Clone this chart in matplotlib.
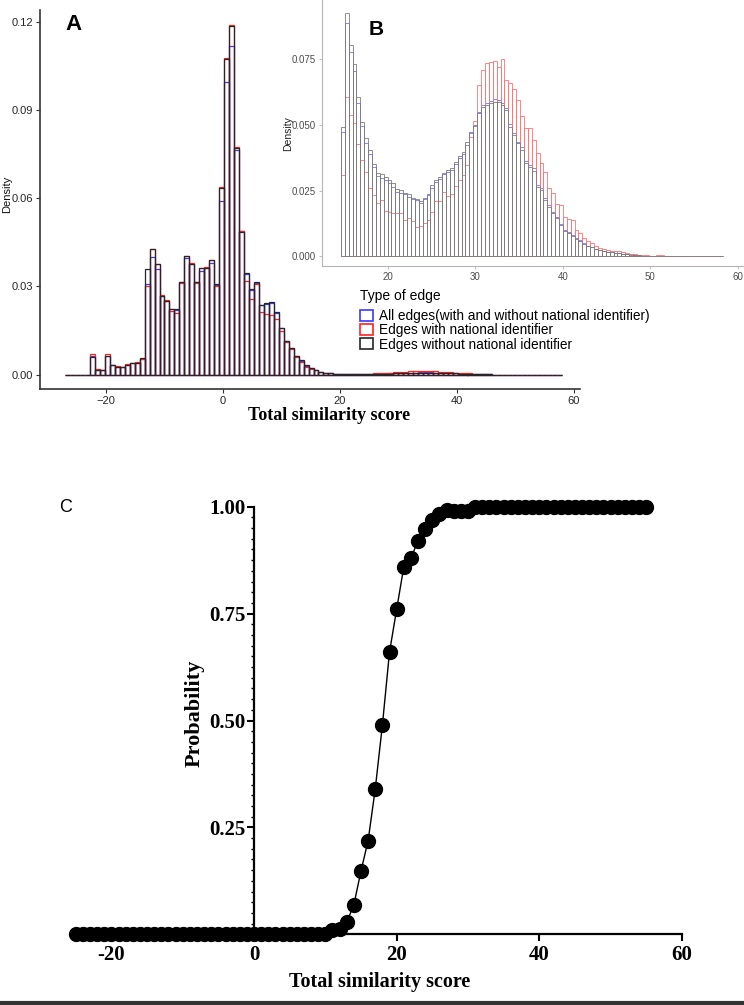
import numpy as np
import matplotlib
matplotlib.use("Agg")
import matplotlib.pyplot as plt
from matplotlib.patches import Patch
from matplotlib.lines import Line2D
from matplotlib.ticker import FixedLocator

# ---------------- DATA ----------------
# Panel A: histogram of total similarity score (100 bins of width 0.85 starting at -27)
a_start = -27.0
a_width = 0.85
a_without = ([0.0, 0.0, 0.0, 0.0, 0.0,
              0.0061, 0.0017, 0.0015, 0.0063, 0.0031, 0.0027, 0.0025, 0.0034, 0.0039, 0.0041, 0.0055,
              0.0360, 0.0426, 0.0376, 0.0268, 0.0251, 0.0223, 0.0222, 0.0315, 0.0403, 0.0378, 0.0315,
              0.0362, 0.0364, 0.0389, 0.0307,
              0.0636, 0.1075, 0.1186, 0.0772, 0.0487,
              0.0347, 0.0290, 0.0315, 0.0238, 0.0245, 0.0246, 0.0212, 0.0158, 0.0115, 0.0092, 0.0063,
              0.0049, 0.0031, 0.0023, 0.0016, 0.0010, 0.0007, 0.0005, 0.0003,
              0.0002, 0.0002, 0.0001, 0.0001, 0.0001, 0.0001, 0.0001, 0.0002,
              0.0002, 0.0003, 0.0003, 0.0004, 0.0005, 0.0005, 0.0006, 0.0006, 0.0007, 0.0007, 0.0007,
              0.0006, 0.0006, 0.0005, 0.0004, 0.0004, 0.0003, 0.0002, 0.0002, 0.0001, 0.0001, 0.0001, 0.0001]
             + [0.0] * 14)
a_with = ([0.0, 0.0, 0.0, 0.0, 0.0,
           0.0069, 0.0018, 0.0016, 0.0070, 0.0033, 0.0029, 0.0027, 0.0036, 0.0041, 0.0044, 0.0052,
           0.0303, 0.0428, 0.0378, 0.0271, 0.0253, 0.0218, 0.0208, 0.0313, 0.0405, 0.0380, 0.0312,
           0.0364, 0.0366, 0.0391, 0.0303,
           0.0640, 0.1078, 0.1190, 0.0775, 0.0490,
           0.0320, 0.0258, 0.0310, 0.0214, 0.0206, 0.0203, 0.0189, 0.0150, 0.0110, 0.0086, 0.0060,
           0.0043, 0.0027, 0.0020, 0.0014, 0.0009, 0.0006, 0.0004, 0.0003,
           0.0002, 0.0002, 0.0002, 0.0002, 0.0002, 0.0003, 0.0003, 0.0004,
           0.0005, 0.0006, 0.0007, 0.0008, 0.0009, 0.0010, 0.0011, 0.0012, 0.0012, 0.0012, 0.0012,
           0.0011, 0.0010, 0.0009, 0.0008, 0.0007, 0.0006, 0.0005, 0.0004, 0.0003, 0.0002, 0.0002, 0.0001]
          + [0.0] * 14)
a_all = ([0.0, 0.0, 0.0, 0.0, 0.0,
          0.0063, 0.0017, 0.0015, 0.0064, 0.0031, 0.0027, 0.0025, 0.0034, 0.0039, 0.0041, 0.0054,
          0.0310, 0.0400, 0.0358, 0.0266, 0.0249, 0.0222, 0.0220, 0.0314, 0.0397, 0.0377, 0.0314,
          0.0351, 0.0363, 0.0380, 0.0306,
          0.0590, 0.0997, 0.1120, 0.0765, 0.0488,
          0.0343, 0.0288, 0.0313, 0.0236, 0.0242, 0.0243, 0.0210, 0.0157, 0.0114, 0.0091, 0.0063,
          0.0048, 0.0030, 0.0022, 0.0015, 0.0010, 0.0007, 0.0005, 0.0003,
          0.0002, 0.0002, 0.0001, 0.0001, 0.0001, 0.0001, 0.0002, 0.0002,
          0.0003, 0.0003, 0.0004, 0.0005, 0.0005, 0.0006, 0.0007, 0.0007, 0.0008, 0.0008, 0.0008,
          0.0007, 0.0007, 0.0006, 0.0005, 0.0004, 0.0003, 0.0003, 0.0002, 0.0002, 0.0001, 0.0001, 0.0001]
         + [0.0] * 14)

# Panel B: zoom on scores above ~15 (98 bins of width 0.445 starting at 14.65)
b_start = 14.65
b_width = 0.445
b_without = ([0.0493, 0.0929, 0.0807, 0.0731, 0.0605, 0.0512, 0.0449, 0.0404, 0.0353, 0.0318,
              0.0313, 0.0302, 0.0290, 0.0277, 0.0254, 0.0252, 0.0239, 0.0235, 0.0222, 0.0216,
              0.0211, 0.0222, 0.0238, 0.0271, 0.0290, 0.0302, 0.0318,
              0.0329, 0.0337, 0.0360, 0.0383, 0.0396, 0.0435, 0.0472, 0.0495, 0.0545, 0.0569,
              0.0575, 0.0583, 0.0589, 0.0586, 0.0575, 0.0557, 0.0494, 0.0462, 0.0430, 0.0405,
              0.0354, 0.0341, 0.0326, 0.0265, 0.0252, 0.0214, 0.0188, 0.0163, 0.0144, 0.0118,
              0.0097, 0.0087, 0.0076, 0.0064, 0.0059, 0.0046, 0.0038, 0.0033, 0.0025, 0.0023,
              0.0020, 0.0016, 0.0014, 0.0012, 0.0010, 0.0008, 0.0006, 0.0005, 0.0004, 0.0003,
              0.0002, 0.0002, 0.0001, 0.0001, 0.0001, 0.0001, 0.0000]
             + [0.0] * 14)
b_with = ([0.0311, 0.0608, 0.0540, 0.0506, 0.0426, 0.0366, 0.0319, 0.0258, 0.0233, 0.0203,
           0.0214, 0.0173, 0.0169, 0.0165, 0.0165, 0.0163, 0.0137, 0.0144, 0.0133, 0.0112,
           0.0114, 0.0125, 0.0137, 0.0168, 0.0210, 0.0210, 0.0244,
           0.0231, 0.0237, 0.0266, 0.0292, 0.0310, 0.0347, 0.0455, 0.0515, 0.0653, 0.0711,
           0.0738, 0.0742, 0.0745, 0.0723, 0.0751, 0.0672, 0.0660, 0.0636, 0.0596, 0.0535,
           0.0488, 0.0488, 0.0443, 0.0392, 0.0354, 0.0322, 0.0258, 0.0239, 0.0197, 0.0194,
           0.0149, 0.0143, 0.0137, 0.0100, 0.0087, 0.0068, 0.0059, 0.0048, 0.0038, 0.0029,
           0.0025, 0.0022, 0.0020, 0.0020, 0.0018, 0.0015, 0.0012, 0.0009, 0.0006, 0.0005,
           0.0004, 0.0004, 0.0002, 0.0002, 0.0003, 0.0003, 0.0001]
          + [0.0] * 14)
b_all = ([0.0473, 0.0890, 0.0777, 0.0705, 0.0585, 0.0496, 0.0432, 0.0389, 0.0341, 0.0305,
          0.0299, 0.0290, 0.0277, 0.0264, 0.0245, 0.0241, 0.0236, 0.0226, 0.0216, 0.0214,
          0.0203, 0.0216, 0.0233, 0.0258, 0.0283, 0.0294, 0.0313,
          0.0320, 0.0330, 0.0352, 0.0375, 0.0390, 0.0425, 0.0468, 0.0500, 0.0550, 0.0575,
          0.0585, 0.0593, 0.0598, 0.0596, 0.0585, 0.0565, 0.0505, 0.0470, 0.0437, 0.0415,
          0.0362, 0.0348, 0.0335, 0.0272, 0.0258, 0.0220, 0.0195, 0.0168, 0.0150, 0.0123,
          0.0101, 0.0091, 0.0080, 0.0067, 0.0061, 0.0048, 0.0040, 0.0034, 0.0026, 0.0024,
          0.0021, 0.0017, 0.0015, 0.0013, 0.0011, 0.0009, 0.0007, 0.0006, 0.0004, 0.0003,
          0.0002, 0.0002, 0.0001, 0.0001, 0.0001, 0.0001, 0.0000]
         + [0.0] * 14)

legend_title = "Type of edge"
legend_labels = ["All edges(with and without national identifier)",
                 "Edges with national identifier",
                 "Edges without national identifier"]

a_xticks = [-20, 0, 20, 40, 60]
a_yticks = [0.00, 0.03, 0.06, 0.09, 0.12]
b_xticks = [20, 30, 40, 50, 60]
b_yticks = [0.000, 0.025, 0.050, 0.075]

# Panel C: probability vs total similarity score
c_score = [-25, -24, -23, -22, -21, -20, -19, -18, -17, -16, -15, -14, -13, -12, -11, -10,
           -9, -8, -7, -6, -5, -4, -3, -2, -1, 0, 1, 2, 3, 4, 5, 6, 7, 8, 9, 10,
           11, 12, 13, 14, 15, 16, 17, 18, 19, 20, 21, 22, 23, 24, 25, 26, 27, 28, 29, 30,
           31, 32, 33, 34, 35, 36, 37, 38, 39, 40, 41, 42, 43, 44, 45, 46, 47, 48, 49, 50,
           51, 52, 53, 54, 55]
c_prob = ([0.0] * 36 +
          [0.011, 0.012, 0.028, 0.069, 0.148, 0.219, 0.340, 0.489, 0.660, 0.760,
           0.859, 0.879, 0.921, 0.949, 0.970, 0.983, 0.993, 0.990, 0.990, 0.990] +
          [1.0] * 25)
c_xticks = [-20, 0, 20, 40, 60]
c_yticks = [0.25, 0.50, 0.75, 1.00]

# ---------------- FIGURE ----------------
W, H = 744, 1005
fig = plt.figure(figsize=(W / 100, H / 100), dpi=100)
fig.patch.set_facecolor("white")

def fx(px):
    return px / W

def fy(py):
    return 1 - py / H

SANS = ["Liberation Sans", "DejaVu Sans"]
SERIF = ["Liberation Serif", "DejaVu Serif"]

COL_ALL = "#3a3aff"
COL_WITH = "#ff2020"
COL_WITHOUT = "#262626"

# ---- Panel A ----
axA = fig.add_axes([fx(40), fy(389), fx(580) - fx(40), fy(10) - fy(389)])
axA.set_zorder(1)
leftA = a_start + a_width * np.arange(len(a_without))
for vals, col in [(a_all, COL_ALL), (a_with, COL_WITH), (a_without, COL_WITHOUT)]:
    axA.bar(leftA, vals, width=a_width, align="edge", fill=False,
            edgecolor=col, linewidth=0.9)
axA.set_xlim(-31.3, 61.1)
axA.set_ylim(-0.0049, 0.1241)
for s in ["top", "right"]:
    axA.spines[s].set_visible(False)
for s in ["left", "bottom"]:
    axA.spines[s].set_color("#333333")
    axA.spines[s].set_linewidth(1.2)
axA.set_xticks(a_xticks)
axA.set_xticklabels(["\u221220", "0", "20", "40", "60"])
axA.set_yticks(a_yticks)
axA.set_yticklabels(["%.2f" % v for v in a_yticks])
axA.tick_params(length=3, width=0.8, color="#333333", labelsize=8,
                labelcolor="#262626", pad=2)
for lab in axA.get_xticklabels() + axA.get_yticklabels():
    lab.set_family(SANS)

fig.text(fx(7), fy(194), "Density", rotation=90, ha="center", va="center",
         fontsize=8, family=SANS, color="#111111")
fig.text(fx(329.5), fy(415), "Total similarity score", ha="center", va="center",
         fontsize=13, fontweight="bold", family=SERIF)
fig.text(fx(73), fy(25), "A", ha="center", va="center", fontsize=16,
         fontweight="bold", family=SANS)

# ---- Panel B ----
axB = fig.add_axes([fx(322), fy(266), fx(744) - fx(322), fy(0) - fy(266)])
axB.set_zorder(2)
axB.set_facecolor("white")
leftB = b_start + b_width * np.arange(len(b_without))
for vals, col in [(b_all, "#7373ff"), (b_with, "#ff7373"), (b_without, "#7d7d7d")]:
    axB.bar(leftB, vals, width=b_width, align="edge", fill=False,
            edgecolor=col, linewidth=0.6)
axB.set_xlim(12.5, 60.7)
axB.set_ylim(-0.0038, 0.0977)
for s in ["top", "right"]:
    axB.spines[s].set_visible(False)
for s in ["left", "bottom"]:
    axB.spines[s].set_color("#b3b3b3")
    axB.spines[s].set_linewidth(0.8)
axB.set_xticks(b_xticks)
axB.set_yticks(b_yticks)
axB.set_yticklabels(["%.3f" % v for v in b_yticks])
axB.tick_params(length=2.5, width=0.6, color="#b3b3b3", labelsize=7,
                labelcolor="#4d4d4d", pad=2)
for lab in axB.get_xticklabels() + axB.get_yticklabels():
    lab.set_family(SANS)
fig.text(fx(288), fy(134), "Density", rotation=90, ha="center", va="center",
         fontsize=7.5, family=SANS, color="#222222")
fig.text(fx(376), fy(29.5), "B", ha="center", va="center", fontsize=15,
         fontweight="bold", family=SANS, zorder=5)

# ---- Legend ----
fig.text(fx(360), fy(296), legend_title, ha="left", va="center", fontsize=10,
         family=SANS, zorder=6)
handles = [Patch(facecolor="white", edgecolor=c, linewidth=1.2)
           for c in (COL_ALL, COL_WITH, COL_WITHOUT)]
leg = fig.legend(handles, legend_labels,
                 loc="upper left", bbox_to_anchor=(fx(360), fy(309)),
                 frameon=False, handlelength=0.95, handleheight=0.88,
                 handletextpad=0.44, labelspacing=0.02, borderpad=0,
                 borderaxespad=0, prop={"family": SANS, "size": 9.8})
leg.set_zorder(6)

# ---- Panel C ----
axC = fig.add_axes([fx(61.5), fy(947.1), (689 - 61.5) / W, (947.1 - 493.9) / H])
axC.plot(c_score, c_prob, "-", color="black", linewidth=1.0, marker="o",
         markersize=10, markerfacecolor="black", markeredgecolor="black",
         zorder=4, clip_on=False)
axC.set_xlim(-27, 61)
axC.set_ylim(-0.03, 1.03)
for s in ["top", "right"]:
    axC.spines[s].set_visible(False)
axC.spines["left"].set_position(("data", 0))
axC.spines["bottom"].set_position(("data", 0))
axC.spines["left"].set_bounds(0, 1)
axC.spines["bottom"].set_bounds(0, 60)
for s in ["left", "bottom"]:
    axC.spines[s].set_linewidth(1.6)
    axC.spines[s].set_color("black")
axC.set_xticks(c_xticks)
axC.set_xticklabels([str(v) for v in c_xticks])
axC.set_yticks(c_yticks)
axC.set_yticklabels(["%.2f" % v for v in c_yticks])
axC.yaxis.set_minor_locator(FixedLocator([i * 0.025 for i in range(1, 40) if i % 10 != 0]))
axC.tick_params(which="major", length=5, width=1.5, pad=3, labelsize=15)
axC.tick_params(which="minor", length=2.5, width=1.0)
axC.tick_params(axis="y", which="major", pad=1)
axC.xaxis.get_major_ticks()[0].tick1line.set_visible(False)
for lab in axC.get_xticklabels() + axC.get_yticklabels():
    lab.set_family(SERIF)
    lab.set_fontweight("bold")

fig.text(fx(195), fy(713), "Probability", rotation=90, ha="center", va="center",
         fontsize=16, fontweight="bold", family=SERIF)
fig.text(fx(380), fy(982), "Total similarity score", ha="center", va="center",
         fontsize=14.5, fontweight="bold", family=SERIF)
fig.text(fx(66), fy(507.5), "C", ha="center", va="center", fontsize=13,
         family=SANS)

# bottom rule
fig.add_artist(Line2D([0, 1], [fy(1003), fy(1003)], transform=fig.transFigure,
                      color="#333333", linewidth=3))

fig.savefig("out.png", dpi=100, facecolor="white")
